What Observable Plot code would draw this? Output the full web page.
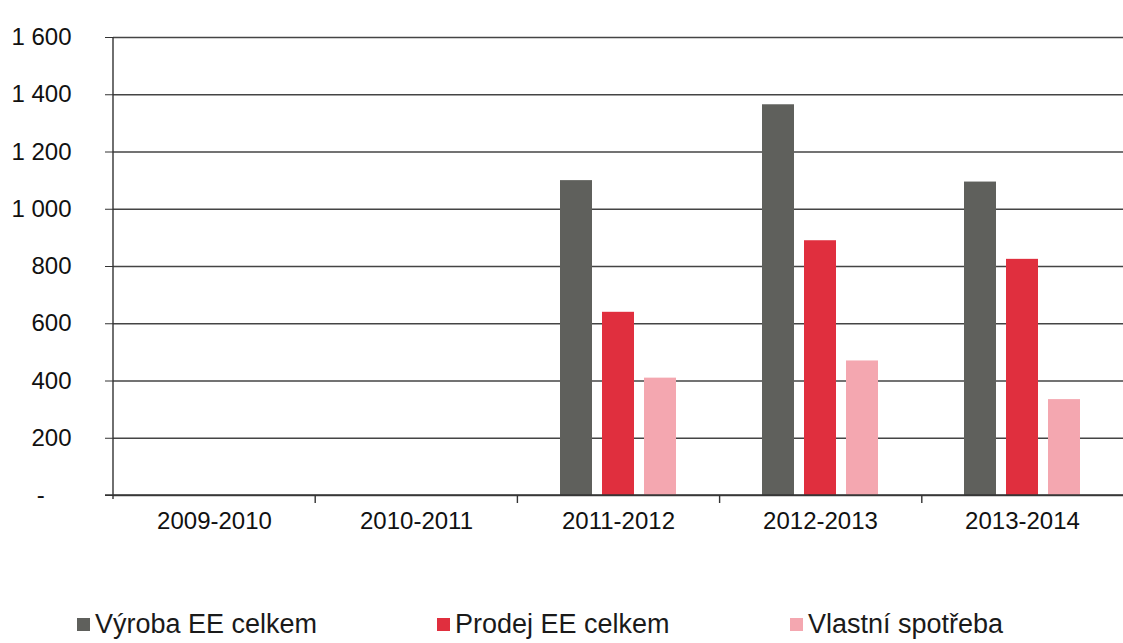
<!DOCTYPE html>
<html><head><meta charset="utf-8">
<script src="https://cdn.jsdelivr.net/npm/d3@7"></script>
<script src="https://cdn.jsdelivr.net/npm/@observablehq/plot@0.6"></script>
<style>
body{margin:0;background:#fff;font-family:"Liberation Sans",Arial,sans-serif;}
#legend{position:relative;height:83px;width:1123px;}
.item{position:absolute;top:49px;font-size:27px;color:#1a1a1a;display:flex;align-items:center;white-space:nowrap}
.sw{width:13px;height:13px;margin-right:5px;display:inline-block}
</style></head><body><div id="chart"></div><div id="legend"></div>
<script>
const years = ["2009-2010","2010-2011","2011-2012","2012-2013","2013-2014"];
const series = ["Výroba EE celkem","Prodej EE celkem","Vlastní spotřeba"];
const vyroba = [null,null,1100,1365,1095];
const prodej = [null,null,640,890,825];
const vlastni = [null,null,410,470,335];
const colors = ["#5f605c","#e02f3e","#f4a7b0"];
const yTicks = [0,200,400,600,800,1000,1200,1400,1600];

const values = [vyroba, prodej, vlastni];
const data = [];
years.forEach((yr, i) => series.forEach((s, j) => data.push({year: yr, series: s, value: values[j][i]})));

const fmt = d => d === 0 ? "-\u2007\u2007" : d3.format(",")(d).replace(/,/g, " ");

const W = 1123, ML = 112, MR = 0;
let decorDone = false;
function decor(index, scales) {
  if (decorDone) return null;
  decorDone = true;
  const {y} = scales;
  const g = d3.create("svg:g").attr("stroke", "#333").attr("stroke-width", 1.4);
  const y0 = y(0);
  g.append("line").attr("x1", ML).attr("x2", ML).attr("y1", y(1600)).attr("y2", y0 + 4);
  g.append("line").attr("x1", ML - 8).attr("x2", W).attr("y1", y0).attr("y2", y0);
  const step = (W - ML - MR) / years.length;
  years.forEach((yr, i) => {
    if (i === 0) return;
    const x = ML + i * step;
    g.append("line").attr("x1", x).attr("x2", x).attr("y1", y0).attr("y2", y0 + 8);
  });
  return g.node();
}

const chart = Plot.plot({
  width: W, height: 560,
  marginLeft: ML, marginRight: MR, marginTop: 37, marginBottom: 65,
  style: {fontFamily: "'Liberation Sans', Arial, sans-serif", color: "#111", background: "#fff", overflow: "visible"},
  fx: {domain: years, padding: 0, label: null},
  x: {domain: series, paddingInner: 0.24, paddingOuter: 1.0, axis: null},
  y: {domain: [0, 1600], label: null},
  color: {domain: series, range: colors},
  marks: [
    Plot.gridY(yTicks, {stroke: "#444", strokeOpacity: 1, strokeWidth: 1.3}),
    Plot.barY(data, {fx: "year", x: "series", y: "value", fill: "series"}),
    Plot.axisY(yTicks, {tickFormat: fmt, tickSize: 8, tickPadding: 34, fontSize: 24, stroke: "#333", label: null}),
    Plot.axisFx({anchor: "bottom", tickSize: 0, tickPadding: 16, fontSize: 24, label: null}),
    decor
  ]
});
document.getElementById("chart").appendChild(chart);

const legendLeft = [77, 437, 790];
const lg = document.getElementById("legend");
series.forEach((s, i) => {
  const it = document.createElement("div");
  it.className = "item";
  it.style.left = legendLeft[i] + "px";
  it.innerHTML = `<span class="sw" style="background:${colors[i]}"></span>${s}`;
  lg.appendChild(it);
});
</script></body></html>
